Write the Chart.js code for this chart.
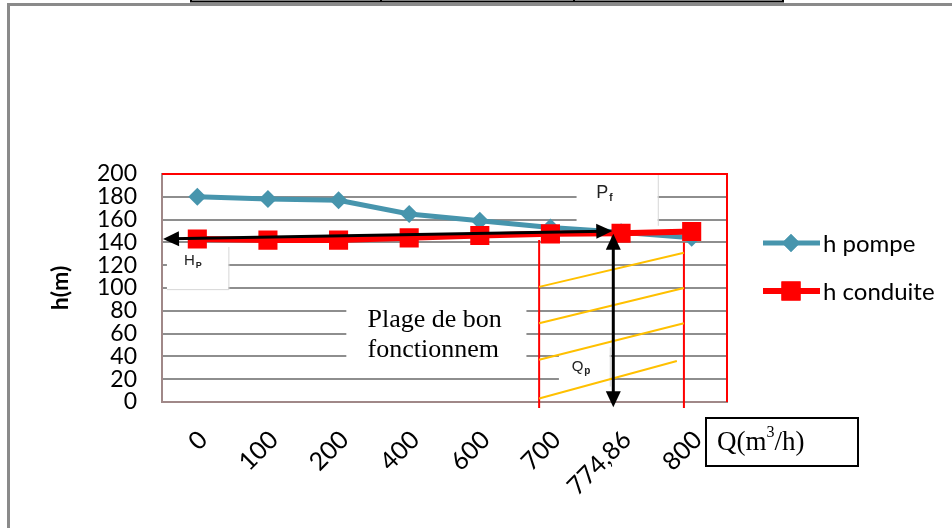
<!DOCTYPE html>
<html>
<head>
<meta charset="utf-8">
<script src="https://cdn.jsdelivr.net/npm/chart.js@4/dist/chart.umd.min.js"></script>
<style>
  html, body { margin: 0; padding: 0; background: #ffffff; }
  #wrap { width: 952px; height: 528px; position: relative; }
</style>
</head>
<body>
<div id="wrap"><canvas id="c" width="952" height="528"></canvas></div>
<script>
// Flow rates Q (m3/h) used as categories
const categories = ['0', '100', '200', '400', '600', '700', '774,86', '800'];
// Pump head curve (m)
const hPompe = [180, 178, 177, 165, 159, 153, 149, 144];
// Pipe characteristic curve (m)
const hConduite = [143, 142, 142, 144, 146, 147.5, 148, 149.5];
// Head axis
const yMin = 0, yMax = 200, yStep = 20;

// Operating range, in category-index units
const rangeStart = 4.84, rangeEnd = 6.89;
// Operating point (index, head)
const opIndex = 5.89, opHead = 150;
// Hatching segments inside the operating range: [x0, h0, x1, h1]
const hatch = [
  [rangeStart, 101, rangeEnd, 131],
  [rangeStart, 69, rangeEnd, 100],
  [rangeStart, 37, rangeEnd, 69],
  [rangeStart, 3, 6.79, 36]
];

const FONT = 'Lato, "Noto Sans", sans-serif';
const SERIF = '"Liberation Serif", "Times New Roman", serif';
const SANS = '"Liberation Sans", Arial, sans-serif';

function head(ctx, x1, y1, x2, y2, len, half) {
  const a = Math.atan2(y2 - y1, x2 - x1);
  const bx = x2 - len * Math.cos(a), by = y2 - len * Math.sin(a);
  ctx.beginPath();
  ctx.moveTo(x2, y2);
  ctx.lineTo(bx + half * Math.sin(a), by - half * Math.cos(a));
  ctx.lineTo(bx - half * Math.sin(a), by + half * Math.cos(a));
  ctx.closePath();
  ctx.fill();
}
function doubleArrow(ctx, x1, y1, x2, y2) {
  const a = Math.atan2(y2 - y1, x2 - x1), s = 8;
  ctx.save();
  ctx.strokeStyle = '#000'; ctx.fillStyle = '#000'; ctx.lineWidth = 3;
  ctx.beginPath();
  ctx.moveTo(x1 + s * Math.cos(a), y1 + s * Math.sin(a));
  ctx.lineTo(x2 - s * Math.cos(a), y2 - s * Math.sin(a));
  ctx.stroke();
  head(ctx, x1, y1, x2, y2, 16, 7.5);
  head(ctx, x2, y2, x1, y1, 16, 7.5);
  ctx.restore();
}
function whiteBox(ctx, x0, y0, x1, y1, edge) {
  ctx.save();
  ctx.fillStyle = '#ffffff';
  ctx.fillRect(x0, y0, x1 - x0, y1 - y0);
  if (edge) {
    ctx.strokeStyle = '#d6d6d6'; ctx.lineWidth = 1;
    ctx.beginPath();
    ctx.moveTo(x1 + 0.5, y0); ctx.lineTo(x1 + 0.5, y1 + 0.5);
    if (edge === 2) ctx.lineTo(x0, y1 + 0.5);
    ctx.stroke();
  }
  ctx.restore();
}
function subLabel(ctx, x, y, main, sub, size, subSize) {
  ctx.save();
  ctx.fillStyle = '#222';
  ctx.textBaseline = 'alphabetic';
  ctx.textAlign = 'left';
  ctx.font = size + 'px ' + SANS;
  ctx.fillText(main, x, y);
  const w = ctx.measureText(main).width;
  ctx.font = 'bold ' + subSize + 'px ' + SANS;
  ctx.fillText(sub, x + w + 1, y + 3);
  ctx.restore();
}

// Page frame drawn behind the chart
const framePlugin = {
  id: 'frame',
  beforeDraw(chart) {
    const ctx = chart.ctx;
    ctx.save();
    ctx.fillStyle = '#fff';
    ctx.fillRect(0, 0, chart.width, chart.height);
    ctx.strokeStyle = '#8a8a8a'; ctx.lineWidth = 3;
    ctx.beginPath();
    ctx.moveTo(8.5, chart.height); ctx.lineTo(8.5, 4.5); ctx.lineTo(chart.width, 4.5);
    ctx.stroke();
    ctx.strokeStyle = '#000'; ctx.lineWidth = 2;
    ctx.beginPath();
    ctx.moveTo(191, 1.5); ctx.lineTo(783, 1.5);
    [191, 381, 574, 783].forEach(x => { ctx.moveTo(x, 0); ctx.lineTo(x, 2.5); });
    ctx.stroke();
    ctx.restore();
  }
};

// Background annotations: label boxes, operating range and hatching
const rangePlugin = {
  id: 'range',
  beforeDatasetsDraw(chart) {
    const ctx = chart.ctx, xs = chart.scales.x, ys = chart.scales.y, a = chart.chartArea;
    const px = v => xs.getPixelForValue(v), py = v => ys.getPixelForValue(v);
    // label boxes
    whiteBox(ctx, px(5.37), py(200), px(6.52), py(155), 1);   // Pf
    whiteBox(ctx, px(-0.43), py(136), px(0.44), py(99), 2);   // Hp
    whiteBox(ctx, px(2.11), py(95.5), px(4.66), py(26.5), 0); // range caption
    whiteBox(ctx, px(5.12), py(48), px(5.84), py(14), 1);     // Qp
    // plot frame (top and right)
    ctx.save();
    ctx.strokeStyle = '#ff0000'; ctx.lineWidth = 2;
    ctx.beginPath();
    ctx.moveTo(a.left, a.top); ctx.lineTo(a.right, a.top); ctx.lineTo(a.right, a.bottom);
    ctx.stroke();
    // operating range bounds
    ctx.lineWidth = 2;
    ctx.beginPath();
    ctx.moveTo(px(rangeStart), py(142)); ctx.lineTo(px(rangeStart), a.bottom + 6);
    ctx.moveTo(px(rangeEnd), py(140)); ctx.lineTo(px(rangeEnd), a.bottom + 6);
    ctx.stroke();
    // hatching
    ctx.strokeStyle = '#ffc000'; ctx.lineWidth = 2;
    ctx.beginPath();
    hatch.forEach(h => { ctx.moveTo(px(h[0]), py(h[1])); ctx.lineTo(px(h[2]), py(h[3])); });
    ctx.stroke();
    ctx.restore();
  },
  afterDatasetsDraw(chart) {
    const ctx = chart.ctx, xs = chart.scales.x, ys = chart.scales.y, a = chart.chartArea;
    const px = v => xs.getPixelForValue(v), py = v => ys.getPixelForValue(v);
    // operating point arrows
    doubleArrow(ctx, a.left + 1, py(143), px(opIndex) - 1, py(opHead));
    doubleArrow(ctx, px(opIndex), py(147.5), px(opIndex), py(-4.5));
    // labels
    subLabel(ctx, px(5.65), py(179), 'P', 'f', 18, 10);
    subLabel(ctx, px(-0.19), py(120), 'H', 'P', 15, 9);
    subLabel(ctx, px(5.30), py(27), 'Q', 'p', 15, 10);
    ctx.save();
    ctx.fillStyle = '#000';
    ctx.font = '26px ' + SERIF;
    ctx.textAlign = 'left'; ctx.textBaseline = 'alphabetic';
    ctx.fillText('Plage de bon', px(2.41), py(65.5));
    ctx.fillText('fonctionnem', px(2.41), py(39.5));
    // flow axis caption box
    const bx0 = a.right - 21, by0 = a.bottom + 16;
    ctx.strokeStyle = '#000'; ctx.lineWidth = 2;
    ctx.strokeRect(bx0, by0, 152, 48);
    ctx.font = '27px ' + SERIF;
    ctx.textBaseline = 'middle';
    let tx = bx0 + 11, ty = by0 + 25;
    ctx.fillText('Q(m', tx, ty); tx += ctx.measureText('Q(m').width;
    ctx.font = '16px ' + SERIF;
    ctx.fillText('3', tx, ty - 10); tx += ctx.measureText('3').width;
    ctx.font = '27px ' + SERIF;
    ctx.fillText('/h)', tx, ty);
    ctx.restore();
    // legend
    const ds = chart.data.datasets;
    const lx = a.right + 36, rows = [a.top + 69, a.top + 117];
    ds.forEach((d, i) => {
      const y = rows[i];
      ctx.save();
      ctx.strokeStyle = d.borderColor; ctx.lineWidth = d.borderWidth;
      ctx.beginPath(); ctx.moveTo(lx, y); ctx.lineTo(lx + 57, y); ctx.stroke();
      ctx.fillStyle = d.pointBackgroundColor;
      Chart.helpers.drawPoint(ctx, { pointStyle: d.pointStyle, radius: d.pointRadius, borderWidth: 0 }, lx + 28, y);
      ctx.fill();
      ctx.fillStyle = '#000';
      ctx.font = '24px ' + FONT;
      ctx.textBaseline = 'middle';
      ctx.fillText(d.label, lx + 60, y + 1);
      ctx.restore();
    });
  }
};

new Chart(document.getElementById('c'), {
  type: 'line',
  data: {
    labels: categories,
    datasets: [
      {
        label: 'h pompe',
        data: hPompe,
        borderColor: '#4795ad',
        backgroundColor: '#4795ad',
        pointBackgroundColor: '#4795ad',
        pointBorderColor: '#4795ad',
        borderWidth: 5,
        pointStyle: 'rectRot',
        pointRadius: 9,
        pointBorderWidth: 0,
        tension: 0,
        order: 2
      },
      {
        label: 'h conduite',
        data: hConduite,
        borderColor: '#ff0000',
        backgroundColor: '#ff0000',
        pointBackgroundColor: '#ff0000',
        pointBorderColor: '#ff0000',
        borderWidth: 6,
        pointStyle: 'rect',
        pointRadius: 13.5,
        pointBorderWidth: 0,
        tension: 0,
        order: 1
      }
    ]
  },
  options: {
    responsive: false,
    animation: false,
    layout: { padding: { top: 174, right: 225, bottom: 0, left: 0 } },
    plugins: {
      legend: { display: false },
      tooltip: { enabled: false }
    },
    scales: {
      x: {
        type: 'category',
        offset: true,
        grid: { display: false },
        border: { display: true, color: '#a08888', width: 2 },
        ticks: {
          color: '#000',
          font: { family: FONT, size: 25 },
          maxRotation: 45,
          minRotation: 45,
          padding: 15,
          labelOffset: 6,
          autoSkip: false
        },
        afterFit(s) { s.height = 126; }
      },
      y: {
        min: yMin,
        max: yMax,
        grid: { color: '#8e8e8e', lineWidth: 2, drawTicks: false },
        border: { display: true, color: '#a08888', width: 2 },
        ticks: {
          stepSize: yStep,
          autoSkip: false,
          color: '#000',
          font: { family: FONT, size: 23 },
          padding: 25
        },
        title: {
          display: true,
          text: 'h(m)',
          color: '#000',
          font: { family: FONT, size: 23, weight: 'bold' },
          padding: { top: 47, bottom: 0 }
        },
        afterFit(s) { s.width = 162; }
      }
    }
  },
  plugins: [framePlugin, rangePlugin]
});
</script>
</body>
</html>
